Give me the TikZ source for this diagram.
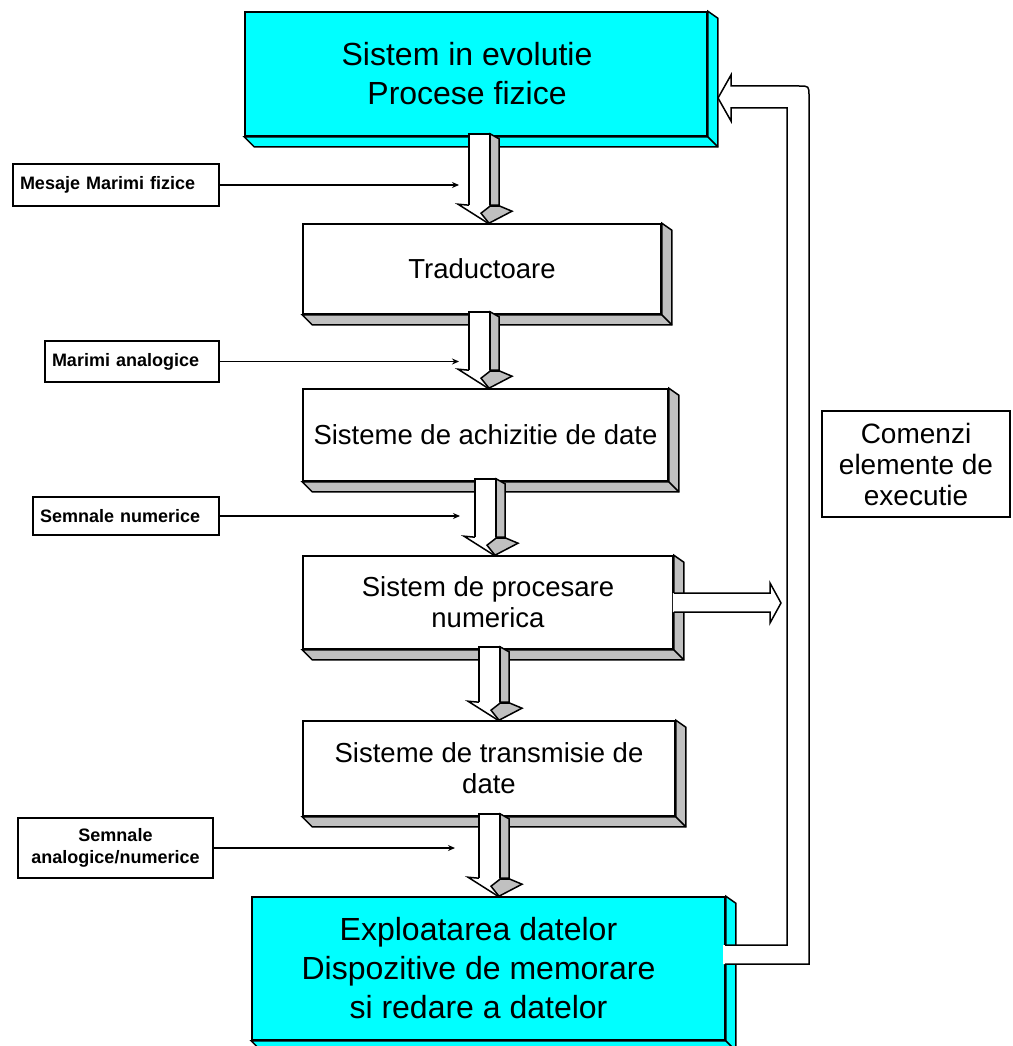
\documentclass[tikz,border=0pt]{standalone}
\usepackage{fontspec}
\setmainfont{Liberation Sans}
\usetikzlibrary{calc,arrows.meta}
\definecolor{cy}{RGB}{0,255,255}
\definecolor{gside}{RGB}{192,192,192}
\newcommand\extr[2]{% node, fill colour
  \filldraw[fill=#2] (#1.north east) -- ($(#1.north east)+(10,7)$) -- ($(#1.south east)+(10,10)$)
     -- ($(#1.south west)+(10,10)$) -- (#1.south west) -- (#1.south east) -- cycle;
  \draw (#1.south east) -- ($(#1.south east)+(10,10)$);
}
\newcommand\blockdown[3]{% from node, to node, shaft left x
  \path let \p1=(#1.south), \p2=(#2.north) in
    coordinate (bt) at (#3pt,\y1+3pt)
    coordinate (bh) at (#3pt,\y2+18pt)
    coordinate (bb) at (#3pt,\y2);
  \filldraw[fill=gside] ($(bt)+(21,0)$) -- ($(bt)+(30,5)$) -- ($(bh)+(30,0)$) -- ($(bh)+(21,0)$) -- cycle;
  \fill[white] (bt) rectangle ($(bh)+(21,0)$);
  \draw (bh) -- (bt) -- ($(bt)+(21,0)$) -- ($(bh)+(21,0)$);
  \filldraw[fill=gside] ($(bh)+(12,8)$) -- ($(bh)+(21,1)$) -- ($(bh)+(31,1)$) -- ($(bh)+(43,6)$) -- ($(bb)+(20,0)$) -- cycle;
  \draw (bh) -- ($(bh)+(-11,-1)$) -- ($(bb)+(19,0)$);
}
\begin{document}
\begin{tikzpicture}[x=1pt,y=-1pt,line width=1.5pt,
  front/.style={draw,line width=1.6pt,inner sep=0pt,align=center},
  bigtxt/.style={font=\fontsize{32}{39}\selectfont},
  medtxt/.style={font=\fontsize{27.5}{31}\selectfont},
  lbl/.style={draw,fill=white,line width=1.6pt,font=\bfseries\fontsize{18}{22}\selectfont,inner ysep=0pt,inner xsep=7pt},
  sarrow/.style={line width=1.3pt,-{Stealth[length=7pt,width=6pt]}}]
\useasboundingbox (0,0) rectangle (1012,1046);
\fill[white] (0,0) rectangle (1012,1046);

% main boxes
\node[front,fill=cy,bigtxt,minimum width=462pt,minimum height=124pt] (sys) at (476,74) {\hspace*{-18pt}Sistem in evolutie\\\hspace*{-18pt}Procese fizice};
\extr{sys}{cy}
\node[front,fill=white,medtxt,minimum width=358pt,minimum height=90pt] (trad) at (482,269) {Traductoare};
\extr{trad}{gside}
\node[front,fill=white,medtxt,minimum width=365pt,minimum height=92pt] (achiz) at (485.5,435) {Sisteme de achizitie de date};
\extr{achiz}{gside}
\node[front,fill=white,medtxt,minimum width=370pt,minimum height=93pt] (proc) at (488,602.5) {Sistem de procesare\\numerica};
\extr{proc}{gside}
\node[front,fill=white,medtxt,minimum width=372pt,minimum height=95pt] (trans) at (489,768.5) {Sisteme de transmisie de\\date};
\extr{trans}{gside}
\node[front,fill=cy,bigtxt,minimum width=473pt,minimum height=143pt] (expl) at (488.5,968.5) {\hspace*{-20pt}Exploatarea datelor\\\hspace*{-20pt}Dispozitive de memorare\\\hspace*{-20pt}si redare a datelor};
\extr{expl}{cy}

% label boxes
\node[lbl,text width=192pt,align=left,minimum height=42pt] (l1) at (116,185) {Mesaje Marimi fizice};
\node[lbl,text width=160pt,align=left,minimum height=41pt] (l2) at (132,361.5) {Marimi analogice};
\node[lbl,text width=172pt,align=left,minimum height=38pt] (l3) at (126,516) {Semnale numerice};
\node[lbl,text width=181pt,align=center,minimum height=60pt] (l4) at (115.5,848) {Semnale\\analogice/numerice};
\node[front,fill=white,font=\fontsize{28}{31}\selectfont,minimum width=188pt,minimum height=106pt] (cmd) at (916,464) {Comenzi\\elemente de\\executie};

% block arrows between boxes
\blockdown{sys}{trad}{469}
\blockdown{trad}{achiz}{469}
\blockdown{achiz}{proc}{475}
\blockdown{proc}{trans}{479}
\blockdown{trans}{expl}{479}

% side arrow from processing
\coordinate (sidetip) at (781,603);
\fill[white] ($(proc.east)+(-1,-9.5)$) -- (770,593) -- (770,583) -- (sidetip) -- (770,623) -- (770,612) -- ($(proc.east)+(-1,9.5)$) -- cycle;
\draw ($(proc.east)+(0,-9.5)$) -- (770,593) -- (770,583) -- (sidetip) -- (770,623) -- (770,612) -- ($(proc.east)+(0,9.5)$);

% feedback arrow
\coordinate (fbtip) at (718,98);
\fill[white] (723,964) -- (809,964) -- (809,96) .. controls (809,86) .. (799,86) -- (731,86) -- (731,75) -- (fbtip) -- (731,121) -- (731,108) -- (787,108) -- (787,945) -- (723,945) -- cycle;
\draw (725,964) -- (809,964) -- (809,96) .. controls (809,86) .. (799,86) -- (731,86) -- (731,75) -- (fbtip) -- (731,121) -- (731,108) -- (787,108) -- (787,945) -- (725,945);

% label arrows
\coordinate (c1) at (459,185);
\coordinate (c2) at (459,361.5);
\coordinate (c3) at (460,516);
\coordinate (c4) at (455,848);
\draw[sarrow] (l1.east) -- (c1);
\draw[sarrow] (l2.east) -- (c2);
\draw[sarrow] (l3.east) -- (c3);
\draw[sarrow] (l4.east) -- (c4);
\end{tikzpicture}
\end{document}
